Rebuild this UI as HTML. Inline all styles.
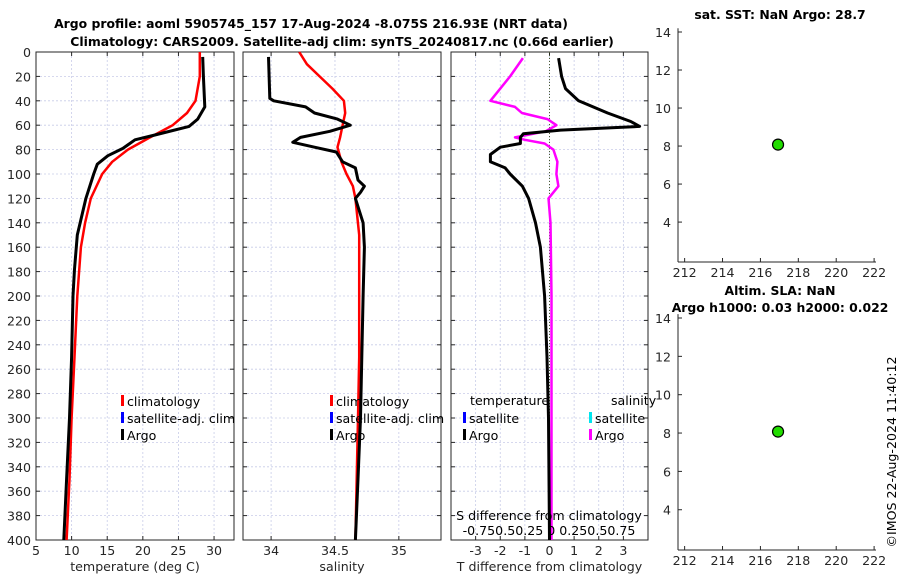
<!DOCTYPE html>
<html><head><meta charset="utf-8"><style>
body{margin:0;background:#fff;}
svg{display:block;font-family:"DejaVu Sans","Liberation Sans",sans-serif;}
</style></head><body>
<svg id="fig" width="900" height="580" viewBox="0 0 900 580"></svg>
<script>
// ---- data ----
const tempArgoDepth=[4,20,45,55,61,68,72,79,85,92,100,120,150,178,200,250,300,350,400];
const tempArgoVal=[28.4,28.5,28.7,27.7,26.5,21.7,18.9,17.2,15.1,13.6,13.1,12.0,10.8,10.4,10.2,10.0,9.7,9.3,8.9];
const tempClimDepth=[0,20,40,50,60,70,80,90,100,120,140,160,200,250,300,350,400];
const tempClimVal=[28.0,28.0,27.4,26.2,24.2,21.0,17.9,15.7,14.3,12.7,11.9,11.3,10.8,10.4,10.0,9.7,9.3];
const salArgoDepth=[4,38,40,45,50,55,60,65,70,74,78,82,90,95,100,105,110,115,120,140,160,200,250,300,350,400];
const salArgoVal=[33.98,33.99,34.02,34.27,34.34,34.52,34.62,34.46,34.23,34.17,34.34,34.51,34.56,34.66,34.67,34.68,34.73,34.70,34.66,34.72,34.73,34.72,34.71,34.70,34.68,34.66];
const salClimDepth=[0,10,20,30,40,50,60,70,78,90,100,110,120,150,200,250,300,350,400];
const salClimVal=[34.22,34.28,34.38,34.48,34.57,34.58,34.56,34.54,34.52,34.55,34.59,34.64,34.66,34.69,34.69,34.69,34.68,34.67,34.66];
const dTDepth=[5,20,30,40,50,57,61,64,67,70,75,78,84,90,95,100,110,120,140,160,200,250,300,350,400];
const dTVal=[0.37,0.49,0.65,1.18,2.36,3.3,3.66,0.45,-1.06,-1.18,-1.18,-2.0,-2.4,-2.4,-1.8,-1.6,-1.1,-0.85,-0.57,-0.37,-0.2,-0.1,-0.04,-0.02,0.0];
const dSDepth=[5,20,40,45,50,55,60,65,70,72,75,80,90,100,110,120,140,200,300,400];
const dSVal=[-0.27,-0.4,-0.6,-0.35,-0.28,-0.02,0.07,-0.04,-0.35,-0.25,-0.05,0.04,0.08,0.07,0.09,-0.01,0.01,0.02,0.02,0.02];
const floatLon=[216.93];
const floatLat=[8.075];
const depthTicks=[0,20,40,60,80,100,120,140,160,180,200,220,240,260,280,300,320,340,360,380,400];
const tempTicks=[5,10,15,20,25,30];
const salTicks=[34,34.5,35];
const dTTicks=[-3,-2,-1,0,1,2,3];
const lonTicks=[212,214,216,218,220,222];
const latTicks=[4,6,8,10,12,14];

const NS="http://www.w3.org/2000/svg";
const svg=document.getElementById('fig');
function mk(tag,attrs,parent){const e=document.createElementNS(NS,tag);for(const k in attrs)e.setAttribute(k,attrs[k]);(parent||svg).appendChild(e);return e;}
function txt(x,y,s,attrs){const t=mk('text',Object.assign({x:x,y:y,'font-size':12.6,fill:'#262626'},attrs||{}));t.textContent=s;return t;}

const Y0=52,Y1=540;
function yD(d){return Y0+(d/400)*(Y1-Y0);}
function lin(d0,d1,p0,p1){return v=>p0+(v-d0)/(d1-d0)*(p1-p0);}

function panel(name,x0,x1,xs,xticks,xlabels,xtitle,showY){
  const g=mk('g',{});
  
  
  xticks.forEach(v=>{mk('line',{x1:xs(v),x2:xs(v),y1:Y0,y2:Y1,stroke:'#c8cce8','stroke-width':0.8,'stroke-dasharray':'2,2'},g);});
  depthTicks.forEach(d=>{mk('line',{x1:x0,x2:x1,y1:yD(d),y2:yD(d),stroke:'#c8cce8','stroke-width':0.8,'stroke-dasharray':'2,2'},g);
    mk('line',{x1:x0,x2:x0+4,y1:yD(d),y2:yD(d),stroke:'#262626'},g);mk('line',{x1:x1-4,x2:x1,y1:yD(d),y2:yD(d),stroke:'#262626'},g);
    if(showY){const t=txt(x0-5,yD(d)+5,String(d),{'text-anchor':'end'});g.appendChild(t);}});
  xticks.forEach((v,i)=>{mk('line',{x1:xs(v),x2:xs(v),y1:Y1-4,y2:Y1,stroke:'#262626'},g);mk('line',{x1:xs(v),x2:xs(v),y1:Y0,y2:Y0+4,stroke:'#262626'},g);
    const t=txt(xs(v),Y1+15,xlabels[i],{'text-anchor':'middle'});g.appendChild(t);});
  mk('rect',{x:x0,y:Y0,width:x1-x0,height:Y1-Y0,fill:'none',stroke:'#262626','stroke-width':1},g);
  const t=txt((x0+x1)/2,Y1+31,xtitle,{'text-anchor':'middle'});g.appendChild(t);
  return g;
}
function line(name,depths,vals,xs,color,w){
  const p=depths.map((d,i)=>(i?'L':'M')+xs(vals[i]).toFixed(1)+','+yD(d).toFixed(1)).join('');
  const e=mk('path',{d:p,fill:'none',stroke:color,'stroke-width':w||2.5,'stroke-linejoin':'round'});
  
  
}
function legendEntry(name,x,y,color,label){
  const g=mk('g',{});
  
  
  mk('rect',{x:x,y:y-10,width:3,height:11,fill:color},g);
  g.appendChild(txt(x+6,y+1,label,{fill:'#000'}));
}

const t1=txt(311,28,"Argo profile: aoml 5905745_157 17-Aug-2024 -8.075S 216.93E (NRT data)",{'text-anchor':'middle','font-weight':'bold',fill:'#000','font-size':12.4});

const t2=txt(342,46,"Climatology: CARS2009. Satellite-adj clim: synTS_20240817.nc (0.66d earlier)",{'text-anchor':'middle','font-weight':'bold',fill:'#000','font-size':12.4});


const xT=lin(5,32.8,36,234);
panel('temperature-panel',36,234,xT,tempTicks,tempTicks.map(String),'temperature (deg C)',true);
line('temp-climatology-line',tempClimDepth,tempClimVal,xT,'#ff0000',2.5);
line('temp-argo-line',tempArgoDepth,tempArgoVal,xT,'#000',3);
legendEntry('legend-climatology',121,405,'#ff0000','climatology');
legendEntry('legend-satellite-adj',121,422,'#0000ff','satellite-adj. clim');
legendEntry('legend-argo',121,439,'#000','Argo');

const xS=lin(33.78,35.33,243,441);
panel('salinity-panel',243,441,xS,salTicks,["34","34.5","35"],'salinity',false);
line('sal-climatology-line',salClimDepth,salClimVal,xS,'#ff0000',2.5);
line('sal-argo-line',salArgoDepth,salArgoVal,xS,'#000',3);
legendEntry('legend-sal-climatology',330,405,'#ff0000','climatology');
legendEntry('legend-sal-satellite',330,422,'#0000ff','satellite-adj. clim');
legendEntry('legend-sal-argo',330,439,'#000','Argo');

const xD=lin(-4,4,451,648);
const xDS=v=>xD(v*4);
panel('difference-panel',451,648,xD,dTTicks,dTTicks.map(String),'T difference from climatology',false);
const z=mk('line',{x1:xD(0),x2:xD(0),y1:Y0,y2:Y1,stroke:'#4a5a30','stroke-width':1,'stroke-dasharray':'1,2'});

line('s-diff-line',dSDepth,dSVal,xDS,'#ff00ff',2.5);
line('t-diff-line',dTDepth,dTVal,xD,'#000',3);
txt(470,405,'temperature',{fill:'#000'});
txt(611,405,'salinity',{fill:'#000'});
legendEntry('legend-t-satellite',463,422,'#0000ff','satellite');
legendEntry('legend-t-argo',463,439,'#000','Argo');
legendEntry('legend-s-satellite',589,422,'#00e5ee','satellite');
legendEntry('legend-s-argo',589,439,'#ff00ff','Argo');
txt(549,520,'S difference from climatology',{'text-anchor':'middle',fill:'#000'});
txt(549,535,'-0.750.50.25 0  0.250.50.75',{'text-anchor':'middle',fill:'#000'});

function mapPanel(name,top,bot,title,titleY){
  const g=mk('g',{});
  
  
  const xl=lin(211.65,222.1,678,876);
  const yl=lin(14,1.9,top,bot);
  mk('line',{x1:678,x2:678,y1:yl(14.2),y2:bot,stroke:'#262626'},g);
  mk('line',{x1:678,x2:876,y1:bot,y2:bot,stroke:'#262626'},g);
  latTicks.forEach(v=>{mk('line',{x1:678,x2:682,y1:yl(v),y2:yl(v),stroke:'#262626'},g);g.appendChild(txt(671,yl(v)+5,String(v),{'text-anchor':'end'}));});
  lonTicks.forEach(v=>{mk('line',{x1:xl(v),x2:xl(v),y1:bot-4,y2:bot,stroke:'#262626'},g);g.appendChild(txt(xl(v),bot+15,String(v),{'text-anchor':'middle'}));});
  title.forEach((s,i)=>g.appendChild(txt(780,titleY+i*17,s,{'text-anchor':'middle','font-weight':'bold',fill:'#000','font-size':12.4})));
  const c=mk('circle',{cx:xl(floatLon[0]),cy:yl(floatLat[0]),r:5.5,fill:'#22dd00',stroke:'#000','stroke-width':1.2},g);
  
  
}
mapPanel('sst-map-panel',32,262,["sat. SST: NaN Argo: 28.7"],19);
mapPanel('sla-map-panel',318,550,["Altim. SLA: NaN","Argo h1000: 0.03 h2000: 0.022"],295);

const st=txt(0,0,'©IMOS 22-Aug-2024 11:40:12',{'text-anchor':'middle',fill:'#000',transform:'translate(896,452) rotate(-90)'});

</script>
</body></html>
